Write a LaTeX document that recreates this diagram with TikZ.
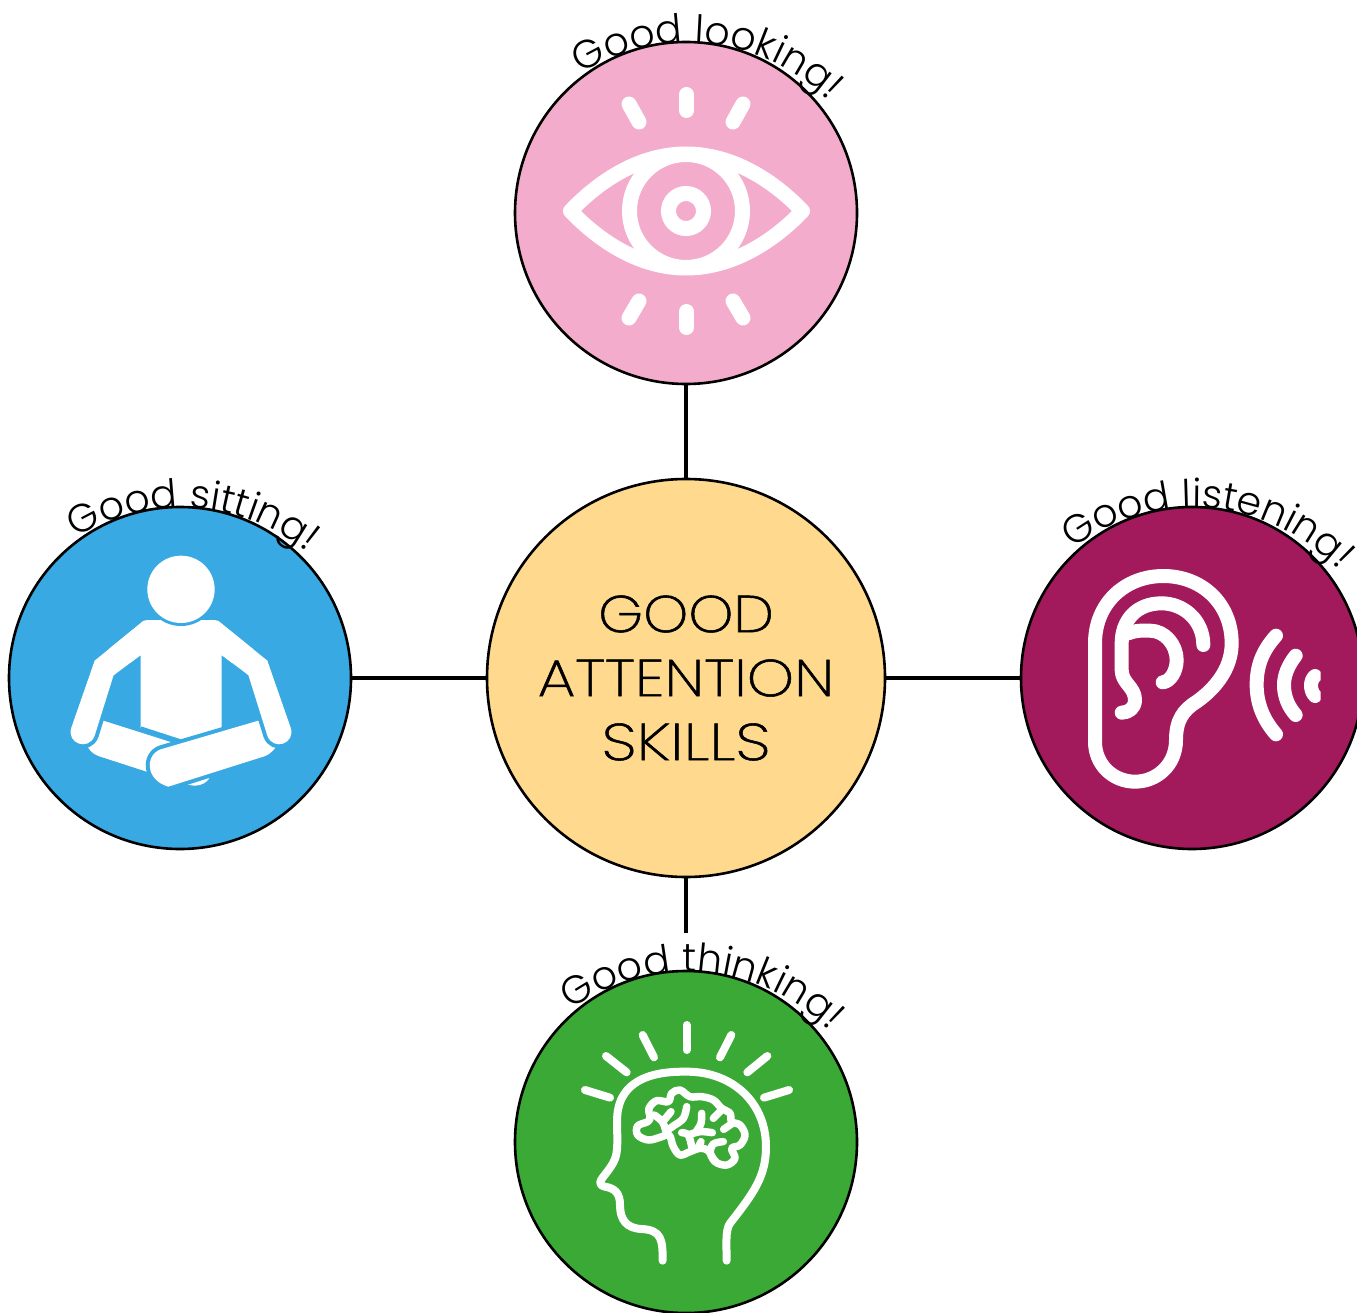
\documentclass[tikz,border=0pt]{standalone}
\usepackage{fontspec}
\usetikzlibrary{decorations.text}
\newfontfamily\mont{Poppins Light}
\newfontfamily\montA[FakeStretch=1.10,FakeBold=1]{Poppins ExtraLight}
\newfontfamily\montB[FakeStretch=1.155,FakeBold=1]{Poppins ExtraLight}
\newfontfamily\montC[FakeStretch=1.22,FakeBold=1]{Poppins ExtraLight}
\definecolor{cpink}{HTML}{F4ACCD}
\definecolor{cyel}{HTML}{FFD98D}
\definecolor{cblue}{HTML}{38A9E2}
\definecolor{cmar}{HTML}{A21A5B}
\definecolor{cgrn}{HTML}{3BA935}
\tikzset{
  disc/.style={circle,draw=black,line width=2.6pt,minimum size=342pt,inner sep=0pt},
  link/.style={draw=black,line width=3.2pt},
  zoomed/.style={x=0.33333pt,y=-0.33333pt},
  ray/.style={draw=white,line width=#1,line cap=round,line join=round},
  limb/.style={fill=white,preaction={draw=cblue,line width=8pt}}
}
\newcommand{\arclabel}[4]{% cx cy start text
  \path[decorate,decoration={text along path,text align=left,
    text={|\mont\fontsize{39.4pt}{40pt}\selectfont|#4}}]
    ({#1+2+200*cos(#3)},{#2+30+200*sin(#3)}) arc[start angle=#3,delta angle=125,radius=200];}
\begin{document}
\begin{tikzpicture}[x=1pt,y=-1pt]
\useasboundingbox (0,0) rectangle (1357,1313);
\coordinate (stub) at (686,933);
\node[disc,fill=cpink] (look) at (686,213) {};
\node[disc,fill=cblue] (sit) at (180,678) {};
\node[disc,fill=cmar] (listen) at (1192,678) {};
\node[disc,fill=cgrn] (think) at (686,1142) {};
\node[circle,draw=black,line width=2.6pt,minimum size=398pt,inner sep=0pt,fill=cyel,
      align=center,font={\fontsize{52pt}{64pt}\selectfont}] (core) at (686,678)
      {\montA GOOD\\\montB ATTENTION\\\montC SKILLS};
\draw[link] (look) -- (core);
\draw[link] (sit) -- (core);
\draw[link] (listen) -- (core);
\draw[link] (core) -- (stub);
% eye
\draw[ray=15pt] (570.5,211) .. controls (605,175) and (645,154) .. (686,154)
  .. controls (727,154) and (768,175) .. (802.5,211)
  .. controls (768,247) and (727,268) .. (686,268)
  .. controls (645,268) and (605,247) .. (570.5,211) -- cycle;
\draw[draw=white,line width=15pt] (686,211) circle[radius=56.5];
\draw[draw=white,line width=15pt] (686,211) circle[radius=17.5];
\draw[ray=15pt] (686.5,94.5)--(686.5,110.5);
\draw[ray=15pt] (686.5,311.5)--(686.5,327.5);
\draw[ray=15pt] (629,104)--(639,122);
\draw[ray=15pt] (743,104)--(733,122);
\draw[ray=15pt] (639,301)--(629,318);
\draw[ray=15pt] (733,301)--(743,318);
% head
\begin{scope}[shift={(540,930)},zoomed]
\draw[ray=8pt] (440,285)--(440,360);
\draw[ray=8pt] (308,315)--(342,382);
\draw[ray=8pt] (574,315)--(540,382);
\draw[ray=8pt] (198,378)--(260,427);
\draw[ray=8pt] (682,378)--(622,427);
\draw[ray=8pt] (135,480)--(210,503);
\draw[ray=8pt] (747,480)--(672,503);
\draw[ray=8pt] (368,992) .. controls (368,930) and (365,900) .. (305,897)
  .. controls (260,895) and (240,870) .. (240,825)
  .. controls (240,790) and (225,775) .. (195,770)
  .. controls (175,765) and (178,755) .. (190,740)
  .. controls (230,690) and (232,680) .. (232,620)
  .. controls (230,560) and (228,520) .. (262,480)
  .. controls (310,425) and (400,425) .. (440,425)
  .. controls (580,425) and (678,520) .. (678,650)
  .. controls (678,740) and (640,790) .. (570,880)
  .. controls (555,900) and (560,950) .. (560,992);
\end{scope}
% brain
\begin{scope}[shift={(625,1080)},zoomed]
\draw[ray=7.5pt] plot[smooth cycle,tension=.6] coordinates {
 (68,125) (38,138) (38,165) (70,180) (105,172) (132,165) (145,200) (165,225) (195,215)
 (225,205) (250,212) (270,245) (305,255) (330,235) (320,205) (345,195) (360,165)
 (345,135) (320,125) (315,100) (290,85) (265,60) (230,50) (195,50) (165,30) (140,40)
 (130,65) (95,62) (72,85) (75,112)};
\draw[ray=7.5pt] plot[smooth,tension=.6] coordinates {(88,105) (112,125) (122,152)};
\draw[ray=7.5pt] plot[smooth,tension=.6] coordinates {(138,95) (116,122)};
\draw[ray=7.5pt] plot[smooth,tension=.6] coordinates {(185,80) (175,115) (145,138) (125,152)};
\draw[ray=7.5pt] plot[smooth,tension=.6] coordinates {(230,100) (228,130) (215,152)};
\draw[ray=7.5pt] plot[smooth,tension=.6] coordinates {(170,158) (190,165) (200,200)};
\draw[ray=7.5pt] plot[smooth,tension=.6] coordinates {(190,165) (225,155) (262,158)};
\draw[ray=7.5pt] plot[smooth,tension=.6] coordinates {(265,115) (285,95)};
\draw[ray=7.5pt] plot[smooth,tension=.6] coordinates {(295,185) (265,192) (256,220) (272,245)};
\draw[ray=7.5pt] plot[smooth,tension=.6] coordinates {(228,185) (218,205)};
\draw[ray=7.5pt] plot[smooth,tension=.6] coordinates {(322,130) (296,148)};
\end{scope}
% ear
\begin{scope}[shift={(1040,470)},zoomed]
\draw[ray=14pt] (165,520) .. controls (165,400) and (255,318) .. (370,318)
  .. controls (485,318) and (575,400) .. (575,520)
  .. controls (575,600) and (520,660) .. (470,695)
  .. controls (430,720) and (408,750) .. (408,810)
  .. controls (408,885) and (350,935) .. (285,935)
  .. controls (220,935) and (165,885) .. (165,815) -- cycle;
\draw[ray=14pt] (490,525) .. controls (490,450) and (430,400) .. (365,400)
  .. controls (290,400) and (245,450) .. (245,520)
  -- (245,600) .. controls (245,640) and (285,650) .. (285,690)
  .. controls (285,715) and (265,728) .. (245,728);
\draw[ray=14pt] (265,490) .. controls (290,480) and (310,482) .. (330,482)
  .. controls (375,482) and (410,525) .. (410,570)
  .. controls (410,605) and (390,635) .. (368,637);
\draw[ray=14pt] (708,497) .. controls (665,545) and (650,590) .. (650,645)
  .. controls (650,700) and (670,750) .. (708,793);
\draw[ray=14pt] (767,557) .. controls (745,585) and (732,615) .. (732,645)
  .. controls (732,680) and (745,710) .. (767,735);
\begin{scope}
\clip (780,580) rectangle (842,720);
\draw[ray=14pt] (825,618) .. controls (810,630) and (808,660) .. (825,678);
\end{scope}
\end{scope}
% sitting figure
\begin{scope}[shift={(40,470)},zoomed]
% far leg and foot
\fill[white] (190,752) -- (420,825) -- (410,925) -- (320,905) -- (175,858)
  .. controls (155,850) and (145,838) .. (135,815) -- cycle;
\fill[white] (440,942) .. controls (465,953) and (500,945) .. (510,920) -- (440,920) -- cycle;
% torso
\fill[white] (325,450) -- (520,450) -- (535,453) -- (682,572) -- (625,615)
  -- (545,555) -- (545,775) -- (425,815) -- (302,775) -- (302,555) -- (222,615) -- (164,572)
  -- (310,453) -- cycle;
\draw[cblue,line width=4pt] (302,775) -- (425,815);
% near leg
\path[limb] (655,752) -- (362,838) .. controls (315,855) and (315,930) .. (385,950)
  -- (670,860) .. controls (695,852) and (705,835) .. (720,815) -- (690,780) -- cycle;
% arms with their blue edges; the shoulders go over their tops
\path[limb] (640,550) -- (682,572) -- (752,773) .. controls (768,820) and (700,845) .. (682,797)
  -- (625,615) -- (590,585) -- cycle;
\path[limb] (206,550) -- (164,572) -- (94,773) .. controls (78,820) and (146,845) .. (164,797)
  -- (221,615) -- (256,585) -- cycle;
\fill[white] (325,450) -- (520,450) -- (535,453) -- (682,572) -- (625,615)
  -- (545,555) -- (302,555) -- (222,615) -- (164,572)
  -- (310,453) -- cycle;
% head
\fill[cblue] (423,358) circle[radius=110];
\fill[white] (423,358) circle[radius=101];
\end{scope}
% arc labels
\arclabel{686}{213}{-122.3}{Good looking!}
\arclabel{180}{678}{-122}{Good sitting!}
\arclabel{1192}{678}{-127.2}{Good listening!}
\arclabel{686}{1142}{-125.7}{Good thinking!}
\end{tikzpicture}
\end{document}
